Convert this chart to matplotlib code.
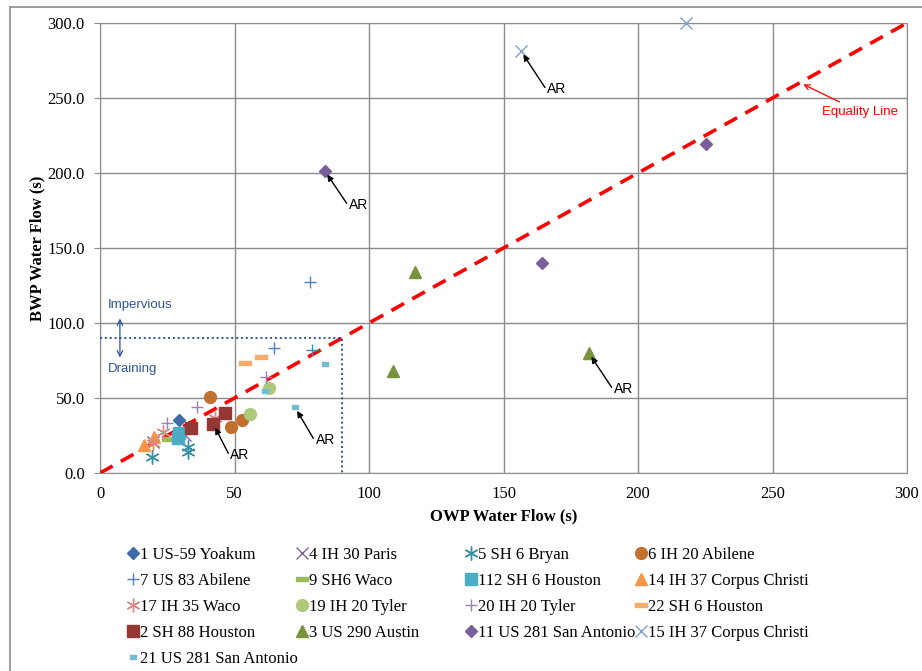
import numpy as np
import matplotlib
matplotlib.use("Agg")
import matplotlib.pyplot as plt
from matplotlib.path import Path
from matplotlib.lines import Line2D

# series names (Excel order)
names = ["1 US-59 Yoakum", "4 IH 30 Paris", "5 SH 6 Bryan", "6 IH 20 Abilene",
         "7 US 83 Abilene", "9 SH6 Waco", "112 SH 6 Houston", "14 IH 37 Corpus Christi",
         "17 IH 35 Waco", "19 IH 20 Tyler", "20 IH 20 Tyler", "22 SH 6 Houston",
         "2 SH 88 Houston", "3 US 290 Austin", "11 US 281 San Antonio", "15 IH 37 Corpus Christi",
         "21 US 281 San Antonio"]

# OWP (x) and BWP (y) water flow values, seconds
owp = [
    [29.5],
    [19.8, 31.6],
    [19.2, 32.8, 32.6],
    [40.8, 52.9, 48.7],
    [78.0, 64.7, 78.7],
    [25.4],
    [29.5, 29.1],
    [16.4, 20.1],
    [23.5, 42.8, 19.8],
    [62.9, 55.9],
    [61.8, 35.9, 24.8],
    [53.9, 59.9],
    [46.5, 42.1, 33.8],
    [117.0, 108.8, 181.8],
    [83.6, 164.3, 225.3],
    [156.5, 217.8],
    [83.5, 72.5, 61.2],
]
bwp = [
    [35.3],
    [20.9, 25.3],
    [10.4, 17.5, 14.2],
    [50.4, 35.3, 30.9],
    [127.4, 83.1, 82.0],
    [22.4],
    [26.9, 23.1],
    [18.7, 23.8],
    [27.5, 36.4, 19.8],
    [56.9, 39.5],
    [64.2, 44.2, 33.1],
    [73.1, 77.1],
    [39.8, 32.7, 30.0],
    [134.2, 68.2, 79.8],
    [201.3, 140.2, 219.3],
    [281.3, 300.0],
    [72.9, 43.8, 54.4],
]

# annotated "AR" points: (point x, point y, text x, text y)
ar_points = [(156.5, 281.3, 165.4, 257.0),
             (83.6, 201.3, 91.7, 179.8),
             (181.8, 79.8, 190.2, 57.1),
             (72.5, 43.8, 79.3, 23.1),
             (42.1, 32.7, 47.7, 13.1)]

dash_big = Path([(-1, -0.35), (1, -0.35), (1, 0.35), (-1, 0.35), (-1, -0.35)], closed=True)
dash_small = Path([(-1, -0.5), (1, -0.5), (1, 0.5), (-1, 0.5), (-1, -0.5)], closed=True)
star = (6, 2, 0)

styles = [
    dict(marker="D", color="#3D6CA8", ms=6.5),
    dict(marker="x", color="#7F64A2", ms=8, mew=1.0),
    dict(marker=star, color="#3590A8", ms=10, mew=1.0),
    dict(marker="o", color="#C2702E", ms=8.5),
    dict(marker="+", color="#4F81BD", ms=9, mew=1.0),
    dict(marker=dash_big, color="#9BBB59", ms=9),
    dict(marker="s", color="#4BACC6", ms=9),
    dict(marker="^", color="#F79646", ms=9),
    dict(marker=star, color="#D98785", ms=10, mew=1.0),
    dict(marker="o", color="#AFC97A", ms=8.5),
    dict(marker="+", color="#9983B5", ms=9, mew=1.0),
    dict(marker=dash_big, color="#F9AB6B", ms=8),
    dict(marker="s", color="#953735", ms=8.5),
    dict(marker="^", color="#77933C", ms=8.5),
    dict(marker="D", color="#7A5E9C", ms=6.5),
    dict(marker="x", color="#7F9FD0", ms=8, mew=1.0),
    dict(marker=dash_small, color="#6FBDD1", ms=5),
]

plt.rcParams["font.family"] = ["Liberation Serif", "DejaVu Serif"]
sans = ["Liberation Sans", "DejaVu Sans"]

fig = plt.figure(figsize=(9.22, 6.71), dpi=100)
ax = fig.add_axes([100 / 922, 1 - 473 / 671, 807 / 922, 450 / 671])

# outer chart border (top and left only visible)
fig.add_artist(Line2D([10 / 922, 1.0], [1 - 7 / 671, 1 - 7 / 671], color="#8c8c8c", lw=1.2))
fig.add_artist(Line2D([10 / 922, 10 / 922], [1 - 7 / 671, 0], color="#8c8c8c", lw=1.2))

handles = []
for i, name in enumerate(names):
    st = dict(styles[i])
    c = st.pop("color")
    h, = ax.plot(owp[i], bwp[i], ls="none", color=c, mfc=c, mec=c, label=name,
                 zorder=4, clip_on=False, **st)
    handles.append(h)

# equality line
eq = np.array([0, 300])
ax.plot(eq, eq, color="#FF0000", lw=2.6, ls=(0, (4, 2.6)), zorder=3)

# impervious / draining threshold box
ax.plot([0, 90, 90], [90, 90, 0], color="#2E5596", lw=1.4, ls=(0, (1, 1.5)), zorder=3)

ax.set_xlim(0, 300)
ax.set_ylim(0, 300)
ax.set_xticks(np.arange(0, 301, 50))
ax.set_yticks(np.arange(0, 301, 50))
ax.set_yticklabels(["%.1f" % v for v in np.arange(0, 301, 50)])
ax.grid(True, color="#8c8c8c", lw=1.0)
ax.set_axisbelow(True)
for s in ax.spines.values():
    s.set_color("#8c8c8c")
ax.tick_params(axis="y", length=4, color="#8c8c8c", labelsize=12, pad=7)
ax.tick_params(axis="x", length=0, labelsize=12, pad=9)
ax.set_xlabel("OWP Water Flow (s)", fontsize=12, fontweight="bold", labelpad=5)
ax.set_ylabel("BWP Water Flow (s)", fontsize=12, fontweight="bold", labelpad=1)

# AR annotations
for px, py, tx, ty in ar_points:
    ax.annotate("", xy=(px, py), xytext=(tx, ty),
                arrowprops=dict(arrowstyle="-|>", color="black", lw=1.0, mutation_scale=9,
                                shrinkA=0, shrinkB=3), zorder=5)
    ax.text(tx + 0.8, ty - 1.2, "AR", fontsize=10, family=sans, ha="left", va="center")

ax.annotate("Equality Line", xy=(261.0, 259.5), xytext=(268.4, 240.7),
            color="#FF0000", fontsize=9.5, family=sans, ha="left", va="center",
            arrowprops=dict(arrowstyle="->", color="#FF0000", lw=0.9, shrinkA=2, shrinkB=1))

ax.text(3.0, 112, "Impervious", color="#2E5596", fontsize=9.5, family=sans, ha="left", va="center")
ax.text(3.0, 69.5, "Draining", color="#2E5596", fontsize=9.5, family=sans, ha="left", va="center")
ax.annotate("", xy=(7.4, 103), xytext=(7.4, 77),
            arrowprops=dict(arrowstyle="<->", color="#2E5596", lw=0.9, shrinkA=0, shrinkB=0))

# legend: 4 columns laid out row by row
col_x = [128, 297, 466, 636]
for c in range(4):
    hs = handles[c::4]
    fig.legend(handles=hs, labels=[h.get_label() for h in hs], loc="upper left",
               bbox_to_anchor=(col_x[c] / 922, 1 - 547 / 671), frameon=False,
               fontsize=12, handlelength=0.55, handletextpad=0.15, labelspacing=0.6,
               borderpad=0, borderaxespad=0)

fig.savefig("out.png", dpi=100)
